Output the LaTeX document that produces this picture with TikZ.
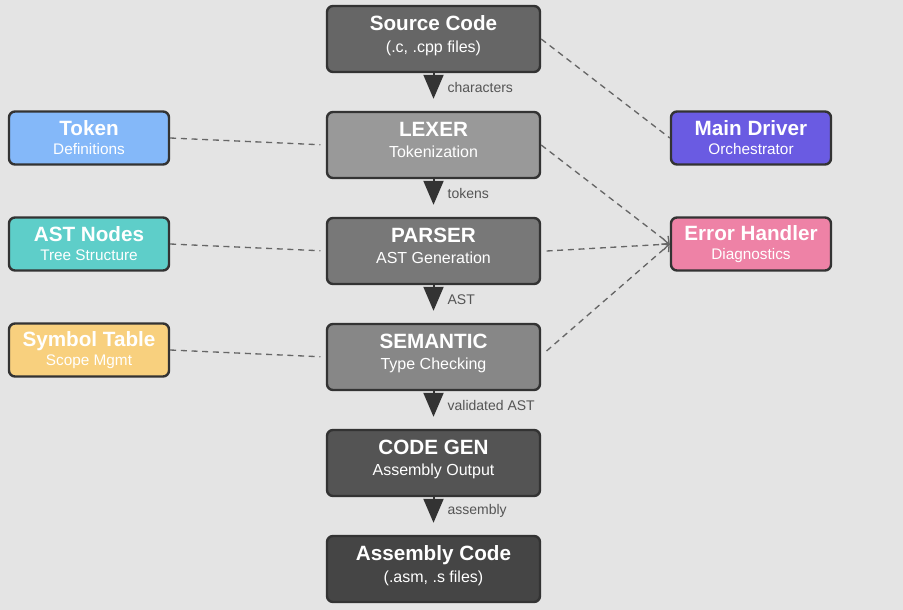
\documentclass[tikz,border=0pt]{standalone}
\usepackage{fontspec}
\setmainfont{Liberation Sans}
\usetikzlibrary{arrows.meta}

\definecolor{bgcol}{HTML}{E4E4E4}
\definecolor{edgecol}{HTML}{333333}
\definecolor{dashcol}{HTML}{666666}
\definecolor{lblcol}{HTML}{555555}
\definecolor{tokcol}{HTML}{84B8F9}
\definecolor{astcol}{HTML}{5ECEC9}
\definecolor{symcol}{HTML}{F8D07E}
\definecolor{drvcol}{HTML}{6A5BE2}
\definecolor{errcol}{HTML}{EE82A6}

\newcommand{\ttl}[1]{{\fontsize{15.5}{15}\selectfont\bfseries #1}}

\tikzset{
	stage/.style={draw=edgecol, line width=1.8pt, rounded corners=4.5pt,
		minimum width=159.75pt, minimum height=49.5pt, text=white, align=center,
		text depth=7.5pt, font=\fontsize{12}{16}\selectfont},
	side/.style={draw=edgecol, line width=1.8pt, rounded corners=4.5pt,
		minimum width=120pt, minimum height=39.75pt, text=white, align=center,
		font=\fontsize{11.5}{14.25}\selectfont},
	flow/.style={draw=edgecol, line width=1.5pt,
		-{Triangle[length=18pt, width=15pt]}, shorten >=9pt},
	link/.style={draw=dashcol, line width=1pt, dash pattern=on 4.5pt off 3.5pt},
	flowlabel/.style={text=lblcol, font=\fontsize{10.5}{12}\selectfont, anchor=west}
}

\begin{document}
\begin{tikzpicture}[x=0.75pt, y=-0.75pt]
	\fill[bgcol] (0,0) rectangle (903,610);
	\useasboundingbox (0,0) rectangle (903,610);

	% compiler stages
	\node[stage, fill=black!60] (p1) at (433.5,39) {\ttl{Source Code}\\(.c, .cpp files)};
	\node[stage, fill=black!40] (p2) at (433.5,145) {\ttl{LEXER}\\Tokenization};
	\node[stage, fill=black!53] (p3) at (433.5,251) {\ttl{PARSER}\\AST Generation};
	\node[stage, fill=black!47] (p4) at (433.5,357) {\ttl{SEMANTIC}\\Type Checking};
	\node[stage, fill=black!67] (p5) at (433.5,463) {\ttl{CODE GEN}\\Assembly Output};
	\node[stage, fill=black!73] (p6) at (433.5,569) {\ttl{Assembly Code}\\(.asm, .s files)};

	% helpers
	\node[side, fill=tokcol] (tok) at (89,138) {\ttl{Token}\\Definitions};
	\node[side, fill=astcol] (ast) at (89,244) {\ttl{AST Nodes}\\Tree Structure};
	\node[side, fill=symcol] (sym) at (89,350) {\ttl{Symbol Table}\\Scope Mgmt};

	\node[side, fill=drvcol] (drv) at (751,138) {\ttl{Main Driver}\\Orchestrator};
	\node[side, fill=errcol] (err) at (751,244) {\ttl{Error Handler}\\Diagnostics};

	\foreach \i / \j / \lbl in {
	1/2/characters, 2/3/tokens, 3/4/AST,
	4/5/validated AST, 5/6/assembly}
	{
		\path[flow] (p\i) -- (p\j) node[flowlabel, pos=0.375, xshift=6.5pt] {\lbl};
	};

	\path[link, shorten >=4pt] (tok.east) -- (p2.west);
	\path[link, shorten >=4pt] (ast.east) -- (p3.west);
	\path[link, shorten >=4pt] (sym.east) -- (p4.west);
	\path[link] (p1.east) -- (drv.west);

	\path[link, -{Straight Barb[length=4pt, width=8pt]}] (p2.east) -- (err.west);
	\path[link, -{Straight Barb[length=4pt, width=8pt]}] ([xshift=4pt]p3.east) -- (err.west);
	\path[link, -{Straight Barb[length=4pt, width=8pt]}] ([xshift=4pt, yshift=4.5pt]p4.east) -- (err.west);
\end{tikzpicture}
\end{document}
